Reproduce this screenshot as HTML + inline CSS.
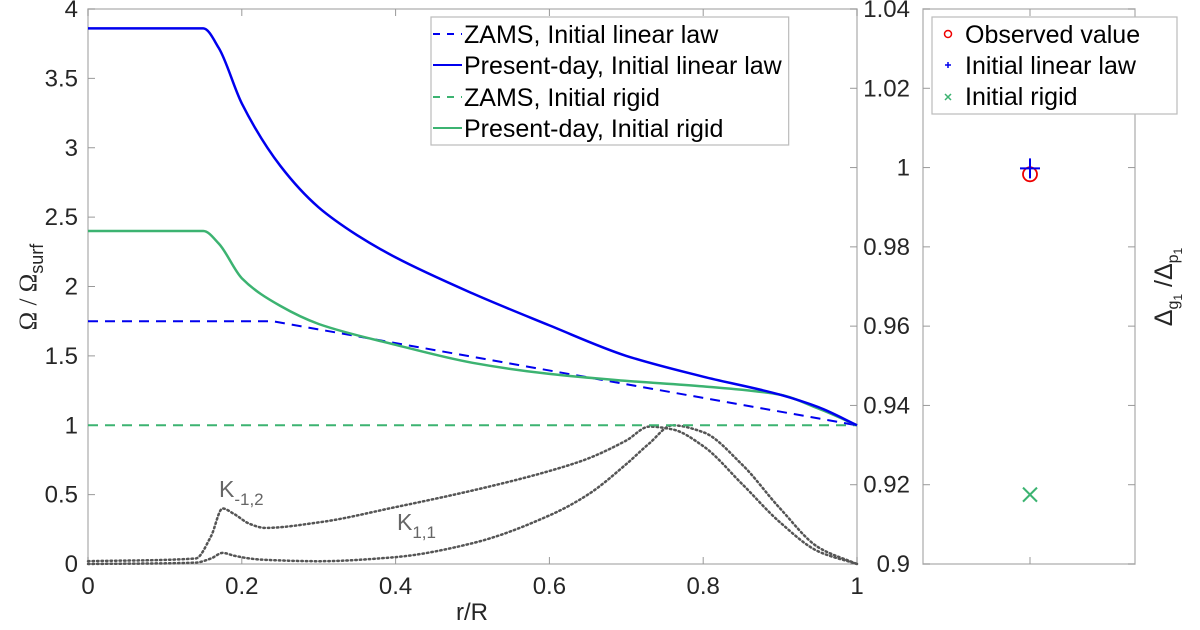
<!DOCTYPE html>
<html><head><meta charset="utf-8"><style>
body{margin:0;background:#fff;}
svg{display:block;font-family:"Liberation Sans",sans-serif;}
</style></head><body>
<svg id="chart" width="1200" height="630"></svg>
<script>
const xTicks=[0,0.2,0.4,0.6,0.8,1];
const xTickLabels=["0","0.2","0.4","0.6","0.8","1"];
const yTicks=[0,0.5,1,1.5,2,2.5,3,3.5,4];
const yTickLabels=["0","0.5","1","1.5","2","2.5","3","3.5","4"];
const y2Ticks=[0.9,0.92,0.94,0.96,0.98,1,1.02,1.04];
const y2TickLabels=["0.9","0.92","0.94","0.96","0.98","1","1.02","1.04"];
const rLin=[0,0.15,0.17,0.2,0.25,0.3,0.35,0.4,0.5,0.6,0.7,0.8,0.9,0.95,1];
const presentLinear=[3.86,3.86,3.72,3.32,2.87,2.57,2.37,2.21,1.95,1.72,1.5,1.35,1.22,1.13,1.0];
const rRig=[0,0.15,0.17,0.2,0.25,0.3,0.4,0.5,0.6,0.7,0.8,0.9,0.95,1];
const presentRigid=[2.4,2.4,2.31,2.06,1.86,1.73,1.58,1.45,1.37,1.32,1.28,1.22,1.12,1.0];
const rZamsLin=[0,0.24,1];
const zamsLinear=[1.75,1.75,1.0];
const rZamsRig=[0,1];
const zamsRigid=[1,1];
const rK=[0,0.14,0.16,0.175,0.19,0.21,0.23,0.3,0.4,0.5,0.6,0.65,0.7,0.73,0.76,0.8,0.85,0.9,0.95,1];
const kM12=[0.02,0.04,0.2,0.4,0.36,0.29,0.26,0.3,0.41,0.53,0.67,0.76,0.89,0.99,0.97,0.85,0.58,0.3,0.09,0];
const kP11=[0,0.01,0.04,0.08,0.06,0.04,0.03,0.02,0.05,0.15,0.35,0.5,0.72,0.87,1.0,0.95,0.72,0.4,0.12,0];
const obsValue=[0.9983];
const linValue=[0.9998];
const rigValue=[0.9175];

const NS="http://www.w3.org/2000/svg";
const svg=document.getElementById('chart');
const X0=88,X1=857,YB=564,YT=9;
const R0=923,R1=1135;
function sx(v){return X0+v*(X1-X0);}
function sy(v){return YB-v/4*(YB-YT);}
function sy2(v){return YB-(v-0.9)/0.14*(YB-YT);}
function mk(t,a,p){const e=document.createElementNS(NS,t);for(const k in a)e.setAttribute(k,a[k]);(p||svg).appendChild(e);return e;}
function txt(s,x,y,anchor,size,fill){const e=mk('text',{x:x,y:y,'text-anchor':anchor,'font-size':size,fill:fill||'#262626'});e.textContent=s;return e;}

let b=mk('rect',{x:X0,y:YT,width:X1-X0,height:YB-YT,fill:'none',stroke:'#bbb','stroke-width':1.5});


let b2=mk('rect',{x:R0,y:YT,width:R1-R0,height:YB-YT,fill:'none',stroke:'#bbb','stroke-width':1.5});



xTicks.forEach((v,i)=>{
  mk('line',{x1:sx(v),x2:sx(v),y1:YB,y2:YB-7,stroke:'#999'});
  mk('line',{x1:sx(v),x2:sx(v),y1:YT,y2:YT+7,stroke:'#999'});
  const t=txt(xTickLabels[i],sx(v),594,'middle',24);
  
  
});
yTicks.forEach((v,i)=>{
  mk('line',{x1:X0,x2:X0+7,y1:sy(v),y2:sy(v),stroke:'#999'});
  const t=txt(yTickLabels[i],78,sy(v)+8,'end',24);
  
  
});
y2Ticks.forEach((v,i)=>{
  mk('line',{x1:X1,x2:X1-7,y1:sy2(v),y2:sy2(v),stroke:'#999'});
  mk('line',{x1:R0,x2:R0+7,y1:sy2(v),y2:sy2(v),stroke:'#999'});
  mk('line',{x1:R1,x2:R1-7,y1:sy2(v),y2:sy2(v),stroke:'#999'});
  const t=txt(y2TickLabels[i],910,sy2(v)+8,'end',24);
  
  
});
mk('line',{x1:1030,x2:1030,y1:YB,y2:YB-7,stroke:'#999'});
mk('line',{x1:1030,x2:1030,y1:YT,y2:YT+7,stroke:'#999'});

let xl=txt('r/R',472,620,'middle',24);

let yl=mk('text',{x:0,y:0,'text-anchor':'middle','font-size':25,fill:'#262626',transform:'translate(36,287) rotate(-90)','font-family':'Liberation Serif'});
yl.innerHTML='Ω / Ω<tspan font-size="18" dy="7" font-family="Liberation Sans">surf</tspan>';

let y2l=mk('text',{x:0,y:0,'text-anchor':'middle','font-size':25,fill:'#262626',transform:'translate(1172,287) rotate(-90)'});
y2l.innerHTML='Δ<tspan font-size="16" dy="6">g</tspan><tspan font-size="12" dy="4">1</tspan><tspan dy="-10"> /Δ</tspan><tspan font-size="16" dy="6">p</tspan><tspan font-size="12" dy="4">1</tspan>';


// monotone cubic (Fritsch-Carlson) path
function smoothPath(xs,ys){
  const X=xs.map(sx),Y=ys.map(sy),n=X.length;
  const dx=[],m=[],t=new Array(n);
  for(let i=0;i<n-1;i++){dx.push(X[i+1]-X[i]);m.push((Y[i+1]-Y[i])/dx[i]);}
  t[0]=m[0];t[n-1]=m[n-2];
  for(let i=1;i<n-1;i++){
    if(m[i-1]*m[i]<=0)t[i]=0;
    else{const w1=2*dx[i]+dx[i-1],w2=dx[i]+2*dx[i-1];t[i]=(w1+w2)/(w1/m[i-1]+w2/m[i]);}
  }
  let d='M'+X[0].toFixed(1)+','+Y[0].toFixed(1);
  for(let i=0;i<n-1;i++){
    const h=dx[i]/3;
    d+=` C${(X[i]+h).toFixed(1)},${(Y[i]+t[i]*h).toFixed(1)} ${(X[i+1]-h).toFixed(1)},${(Y[i+1]-t[i+1]*h).toFixed(1)} ${X[i+1].toFixed(1)},${Y[i+1].toFixed(1)}`;
  }
  return d;
}
function line(xs,ys,attrs,name,smooth){
  const d=smooth?smoothPath(xs,ys):xs.map((x,i)=>(i?'L':'M')+sx(x).toFixed(1)+','+sy(ys[i]).toFixed(1)).join(' ');
  const p=mk('path',Object.assign({d:d,fill:'none'},attrs));
  
  
}
line(rK,kM12,{stroke:'#555','stroke-width':2.5,'stroke-dasharray':'1.5 3','stroke-linecap':'round'},'kernel-k-1-2',true);
line(rK,kP11,{stroke:'#555','stroke-width':2.5,'stroke-dasharray':'1.5 3','stroke-linecap':'round'},'kernel-k-1-1',true);
line(rZamsRig,zamsRigid,{stroke:'#3cb371','stroke-width':2,'stroke-dasharray':'10 7'},'zams-rigid-line',false);
line(rZamsLin,zamsLinear,{stroke:'#0000ee','stroke-width':2,'stroke-dasharray':'10 7'},'zams-linear-line',false);
line(rRig,presentRigid,{stroke:'#3cb371','stroke-width':2.5},'present-rigid-line',true);
line(rLin,presentLinear,{stroke:'#0000ee','stroke-width':2.5},'present-linear-line',true);

let k1=mk('text',{x:219,y:497,'font-size':23,fill:'#666'});k1.innerHTML='K<tspan font-size="17" dy="8">-1,2</tspan>';

let k2=mk('text',{x:397,y:530,'font-size':23,fill:'#666'});k2.innerHTML='K<tspan font-size="17" dy="8">1,1</tspan>';


const cx=1030;
let o=mk('circle',{cx:cx,cy:sy2(obsValue[0]),r:7,fill:'none',stroke:'#ee0000','stroke-width':1.8});

let pl=mk('path',{d:`M${cx-10},${sy2(linValue[0])} h20 M${cx},${sy2(linValue[0])-10} v20`,stroke:'#0000ee','stroke-width':2});

const ry=sy2(rigValue[0]);
let xr=mk('path',{d:`M${cx-7},${ry-7} l14,14 M${cx+7},${ry-7} l-14,14`,stroke:'#3cb371','stroke-width':2});


const lg=mk('g',{});

const lbox=mk('rect',{x:431,y:17,width:370,height:128,fill:'#fff',stroke:'#bbb','stroke-width':1.2},lg);
const le=[['ZAMS, Initial linear law','#0000ee',true],['Present-day, Initial linear law','#0000ee',false],['ZAMS, Initial rigid','#3cb371',true],['Present-day, Initial rigid','#3cb371',false]];
const rowsY=[34,65,97,128];
let maxR=0;
le.forEach((e,i)=>{
  const y=rowsY[i];
  const l=mk('line',{x1:433,x2:462,y1:y,y2:y,stroke:e[1],'stroke-width':2},lg);
  if(e[2])l.setAttribute('stroke-dasharray','7 7');
  const t=txt(e[0],464,y+9,'start',25,'#000');lg.appendChild(t);
  
  try{maxR=Math.max(maxR,t.getBBox().x+t.getBBox().width);}catch(err){}
});
if(maxR>0)lbox.setAttribute('width',maxR+6-431);

const lg2=mk('g',{});

mk('rect',{x:932,y:17,width:245,height:97,fill:'#fff',stroke:'#bbb','stroke-width':1.2},lg2);
mk('circle',{cx:948,cy:34,r:3.5,fill:'none',stroke:'#ee0000','stroke-width':1.5},lg2);
mk('path',{d:'M945,65 h6 M948,62 v6',stroke:'#0000ee','stroke-width':1.5},lg2);
mk('path',{d:'M945,94 l6,6 M951,94 l-6,6',stroke:'#3cb371','stroke-width':1.5},lg2);
['Observed value','Initial linear law','Initial rigid'].forEach((s,i)=>{
  const t=txt(s,965,43+i*31,'start',25,'#000');lg2.appendChild(t);
  
});
</script>
</body></html>
